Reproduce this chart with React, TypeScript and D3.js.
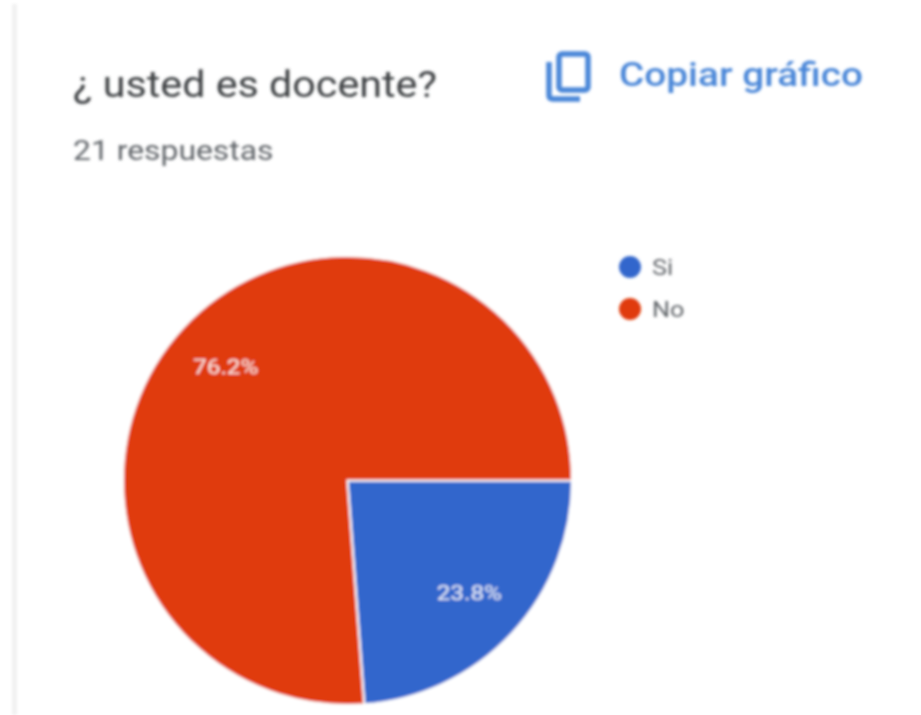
import React from "react";
import * as d3 from "d3";

const categories = ["Si", "No"];
const counts = [5, 16];
const colours = ["#3366cc", "#e03a10"];
const labels = ["23.8%", "76.2%"];
const title = "¿ usted es docente?";
const subtitle = "21 respuestas";
const copyLabel = "Copiar gráfico";

const W = 921, H = 715;
const cx = 347.5, cy = 480.5, R = 224.5;
const stretch = (x: number, y: number, k: number) => `translate(${x},${y}) scale(${k},1)`;

export default function App() {
  const pie = d3.pie<number>().sort(null).startAngle(Math.PI / 2).endAngle(Math.PI / 2 + 2 * Math.PI);
  const arcs = pie(counts);
  const arc = d3.arc<d3.PieArcDatum<number>>().innerRadius(0).outerRadius(R);
  const labelArc = d3.arc<d3.PieArcDatum<number>>().innerRadius(R * 0.74).outerRadius(R * 0.74);
  const legendY = d3.scalePoint<string>().domain(categories).range([267, 309]);
  const font = "Roboto, sans-serif";
  return (
    <svg width={W} height={H} viewBox={`0 0 ${W} ${H}`} style={{ position: "absolute", left: 0, top: 0, background: "#fff" }}>
      <defs>
        <filter id="soft" x="-5%" y="-5%" width="110%" height="110%">
          <feGaussianBlur stdDeviation="1.6" />
        </filter>
      </defs>
      <g filter="url(#soft)">
        <rect x={12} y={4} width={5} height={H - 4} fill="#f1f1f1" />
        <text transform={stretch(73, 97, 1.115)} fontFamily={font} fontSize={37} fill="#3c4043">{title}</text>
        <text transform={stretch(73, 160, 1.18)} fontFamily={font} fontSize={27} fill="#5f6368">{subtitle}</text>
        <g fill="none" stroke="#4a86d8" strokeWidth={5.5}>
          <rect x={559} y={54} width={29} height={36} rx={3} />
          <path d="M549 62 V95 Q549 99 553 99 H580" />
        </g>
        <text transform={stretch(619, 86, 1.175)} fontFamily={font} fontSize={33} fontWeight={500} fill="#4a86d8">{copyLabel}</text>
        {arcs.map((a, i) => (
          <path key={categories[i]} d={arc(a) ?? ""} transform={`translate(${cx},${cy})`} fill={colours[i]} stroke="#fff" strokeWidth={2} />
        ))}
        {arcs.map((a, i) => {
          const [x, y] = labelArc.centroid(a);
          return (
            <text key={labels[i]} transform={stretch(cx + x, cy + y, 1.16)} textAnchor="middle" dominantBaseline="central" fontFamily={font} fontSize={21} fill="#fff" fillOpacity={0.9}>{labels[i]}</text>
          );
        })}
        {categories.map((c, i) => (
          <g key={c}>
            <circle cx={630} cy={legendY(c)} r={11} fill={colours[i]} />
            <text transform={stretch(652, (legendY(c) ?? 0) + 8, 1.15)} fontFamily={font} fontSize={22} fill="#5f6368">{c}</text>
          </g>
        ))}
      </g>
    </svg>
  );
}
